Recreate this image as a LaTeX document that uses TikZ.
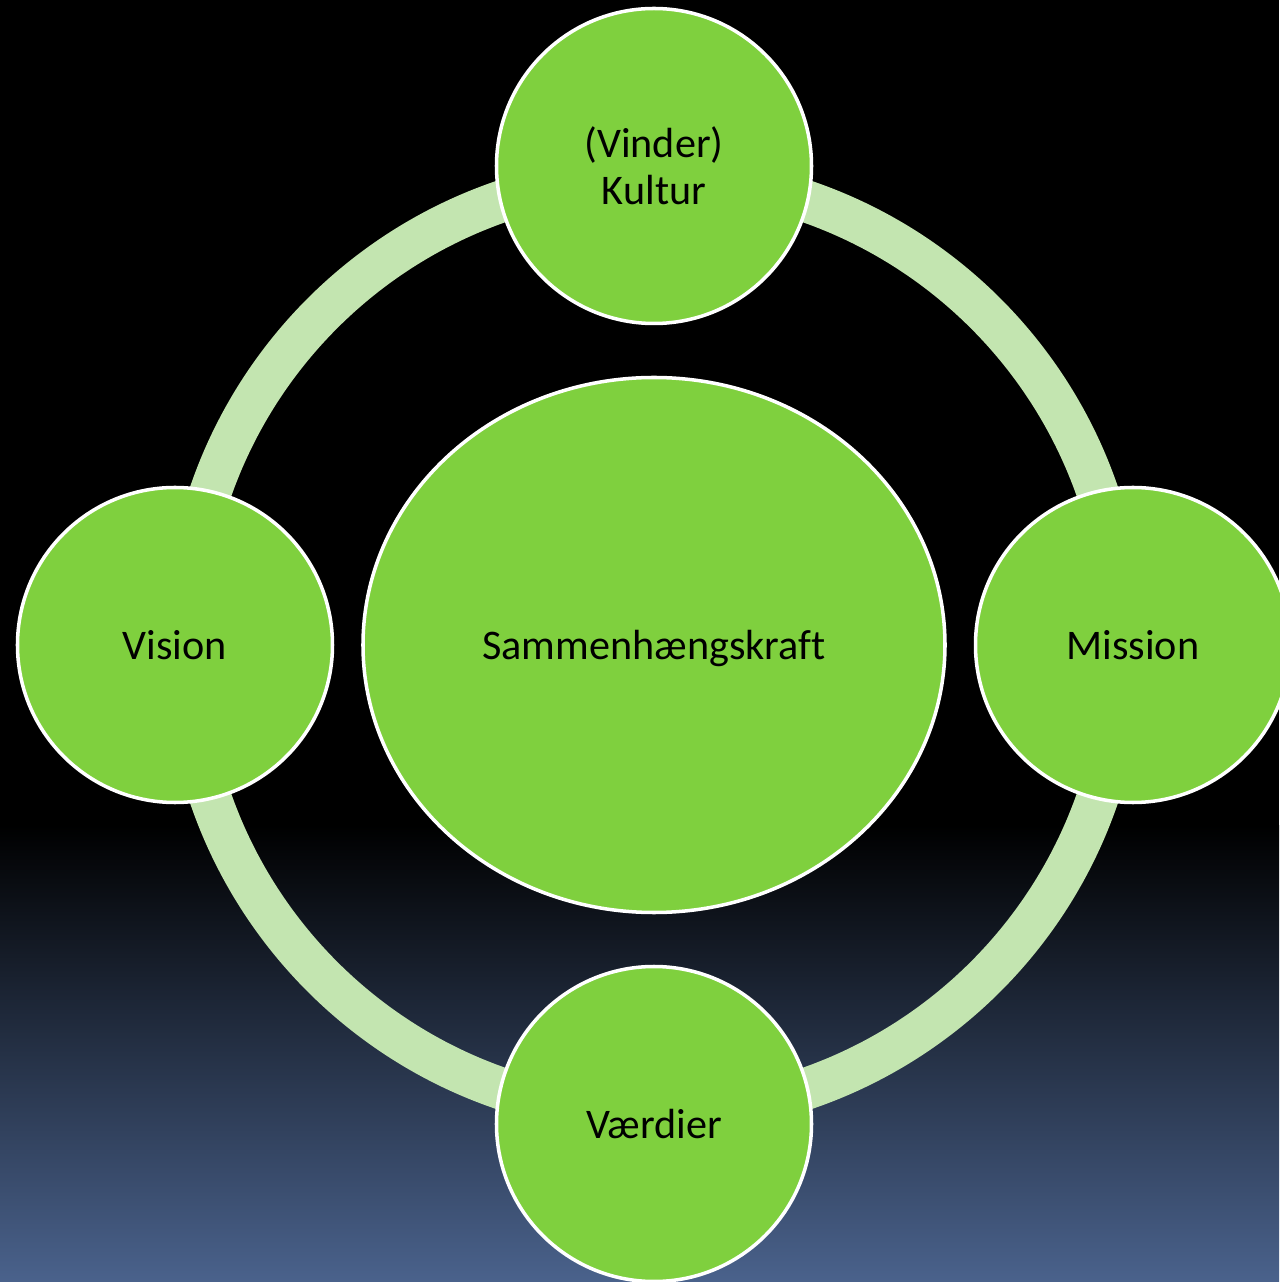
\documentclass[tikz,border=0pt]{standalone}
\usepackage{fontspec}
\setmainfont{Carlito}[Ligatures=NoCommon]
\usetikzlibrary{positioning,shapes.geometric}
\definecolor{leaf}{RGB}{127,208,62}
\definecolor{ringgreen}{RGB}{195,229,176}
\definecolor{dusk}{RGB}{74,98,140}

\begin{document}
\begin{tikzpicture}[node distance=4.79cm,on grid,
  part/.style={circle,draw=white,line width=1pt,fill=leaf,minimum size=3.15cm,
    inner sep=0pt,align=center,font=\fontsize{12}{13.4}\selectfont},
  hub/.style={ellipse,draw=white,line width=1pt,fill=leaf,minimum width=5.82cm,
    minimum height=5.35cm,text depth=0pt,font=\fontsize{12}{13.4}\selectfont},
  ring/.style={draw=ringgreen,line width=0.42cm}]
  % background
  \fill[black] (-6.54,-1.80) rectangle (6.25,6.45);
  \shade[top color=black,bottom color=dusk] (-6.54,-6.37) rectangle (6.25,-1.80);
  \useasboundingbox (-6.54,-6.37) rectangle (6.25,6.45);
  \node[hub] (sam) at (0,0) {Sammenhængskraft};
  \draw[ring] (sam.center) circle [radius=4.69cm];
  \node[part] (kultur) [above = of sam] {(Vinder)\\Kultur};
  \node[part] (mission) [right = of sam] {Mission};
  \node[part] (vaerdier) [below = of sam] {Værdier};
  \node[part] (vision) [left = of sam] {Vision};
\end{tikzpicture}
\end{document}
